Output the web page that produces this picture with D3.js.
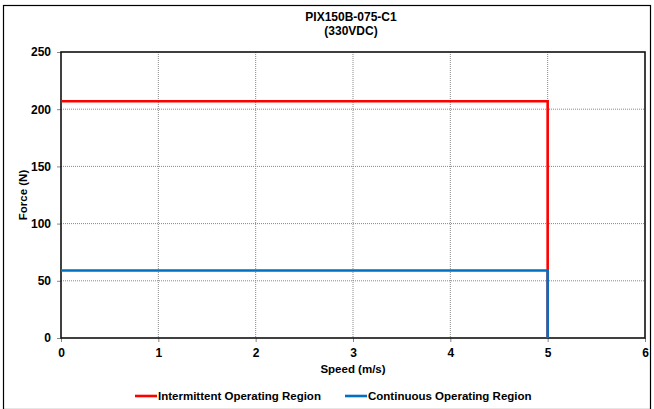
<!DOCTYPE html>
<html>
<head>
<meta charset="utf-8">
<script src="https://cdn.jsdelivr.net/npm/d3@7"></script>
<style>
  body { margin: 0; background: #fff; }
  svg { display: block; font-family: "Liberation Sans", Arial, sans-serif; }
  text { font-weight: bold; fill: #000; }
</style>
</head>
<body>
<svg id="chart" width="654" height="409"></svg>
<script>
// chart data
const title = ["PIX150B-075-C1", "(330VDC)"];
const intermittent = [[0, 207], [5, 207], [5, 0]];
const continuous = [[0, 59], [5, 59], [5, 0]];
const xTicks = [0, 1, 2, 3, 4, 5, 6];
const yTicks = [0, 50, 100, 150, 200, 250];
const seriesNames = ["Intermittent Operating Region", "Continuous Operating Region"];
const seriesColors = ["#ff0000", "#0070c0"];

const svg = d3.select("#chart");
const W = 654, H = 409;
const m = {left: 61, right: 645, top: 52, bottom: 338};

const x = d3.scaleLinear().domain([0, 6]).range([m.left, m.right]);
const y = d3.scaleLinear().domain([0, 250]).range([m.bottom, m.top]);

// outer frame
svg.append("rect").attr("x", 3.5).attr("y", 5.5).attr("width", W - 7).attr("height", H - 5)
  .attr("fill", "none").attr("stroke", "#000").attr("stroke-width", 1.2);

// title
svg.append("g").selectAll("text").data(title).join("text")
  .attr("x", 351).attr("y", (d, i) => 21 + i * 14)
  .attr("text-anchor", "middle").attr("font-size", 12).text(d => d);

// gridlines
svg.append("g").selectAll("line").data(xTicks.slice(1, -1)).join("line")
  .attr("x1", d => x(d)).attr("x2", d => x(d)).attr("y1", m.top).attr("y2", m.bottom)
  .attr("stroke", "#888").attr("stroke-width", 1).attr("stroke-dasharray", "1,1");
svg.append("g").selectAll("line").data(yTicks.slice(1, -1)).join("line")
  .attr("x1", m.left).attr("x2", m.right).attr("y1", d => y(d)).attr("y2", d => y(d))
  .attr("stroke", "#888").attr("stroke-width", 1).attr("stroke-dasharray", "1,1");

// axes
const xAxis = svg.append("g").attr("transform", `translate(0,${m.bottom})`)
  .call(d3.axisBottom(x).tickValues(xTicks).tickSize(4).tickPadding(6).tickFormat(d3.format("d")));
const yAxis = svg.append("g").attr("transform", `translate(${m.left},0)`)
  .call(d3.axisLeft(y).tickValues(yTicks).tickSize(4).tickPadding(6).tickFormat(d3.format("d")));
[xAxis, yAxis].forEach(a => {
  a.select(".domain").remove();
  a.selectAll(".tick line").attr("stroke", "#888");
  a.selectAll(".tick text").attr("font-size", 12).attr("font-family", "Liberation Sans, Arial, sans-serif").attr("fill", "#000");
});

// plot frame
svg.append("rect").attr("x", m.left).attr("y", m.top)
  .attr("width", m.right - m.left).attr("height", m.bottom - m.top)
  .attr("fill", "none").attr("stroke", "#111").attr("stroke-width", 1.6);

// series
const line = d3.line().x(d => x(d[0])).y(d => y(d[1]));
[intermittent, continuous].forEach((s, i) => {
  svg.append("path").datum(s).attr("d", line)
    .attr("fill", "none").attr("stroke", seriesColors[i]).attr("stroke-width", 2.6);
});

// axis titles
svg.append("text").attr("x", x(3)).attr("y", 373).attr("text-anchor", "middle")
  .attr("font-size", 11.5).text("Speed (m/s)");
svg.append("text").attr("transform", `translate(27,${y(125)}) rotate(-90)`)
  .attr("text-anchor", "middle").attr("font-size", 11.5).text("Force (N)");

// legend
const legX = [135, 345];
const leg = svg.append("g").selectAll("g").data(seriesNames).join("g")
  .attr("transform", (d, i) => `translate(${legX[i]},396)`);
leg.append("line").attr("x1", 0).attr("x2", 22).attr("y1", 0).attr("y2", 0)
  .attr("stroke", (d, i) => seriesColors[i]).attr("stroke-width", 2.6);
leg.append("text").attr("x", 23).attr("y", 4).attr("font-size", 11.5).text(d => d);
</script>
</body>
</html>
